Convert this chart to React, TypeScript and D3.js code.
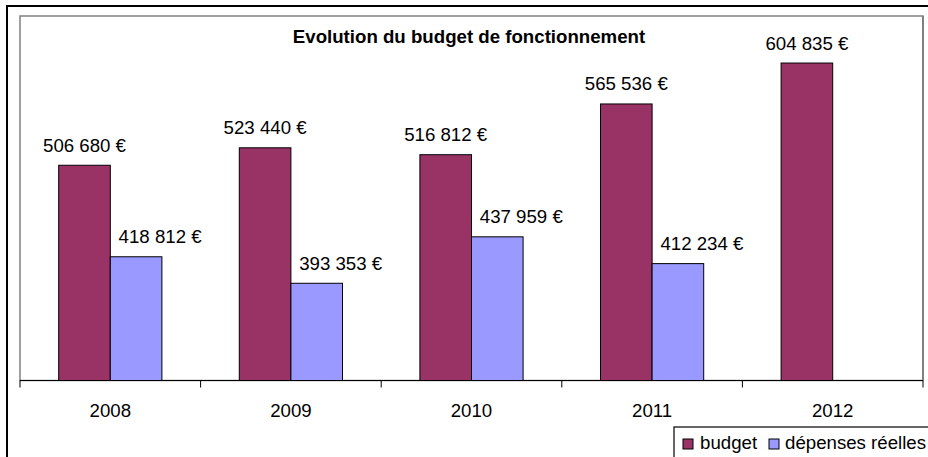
import React from "react";
import * as d3 from "d3";

const years = ["2008", "2009", "2010", "2011", "2012"];
const budget = [506680, 523440, 516812, 565536, 604835];
const depenses: (number | null)[] = [418812, 393353, 437959, 412234, null];
const seriesNames = ["budget", "dépenses réelles"];
const seriesColors = ["#993366", "#9999FF"];
const title = "Evolution du budget de fonctionnement";
const yDomain = [300000, 650000];

const W = 928;
const H = 457;
const plot = { left: 20, top: 16, right: 923, bottom: 380.5 };
const FONT = "'Liberation Sans', Arial, sans-serif";
const FS = 18.67;

const fmt = (v: number) => {
  const s = d3.format(",")(v).replace(/,/g, " ");
  return s + " €";
};

export default function App() {
  const x0 = d3
    .scaleBand<string>()
    .domain(years)
    .range([plot.left, plot.right])
    .paddingInner(0)
    .paddingOuter(0);
  const cw = x0.bandwidth();
  const barW = cw / 3.5;
  const y = d3.scaleLinear().domain(yDomain).range([plot.bottom, plot.top]);

  const series = [budget, depenses];
  const labelDx = [0, 24];

  return (
    <svg
      width={W}
      height={H}
      style={{ position: "absolute", left: 0, top: 0, background: "#fff" }}
      fontFamily={FONT}
    >
      <rect x={0} y={0} width={W} height={H} fill="#fff" />
      {/* chart area border */}
      <rect x={7} y={6} width={940} height={470} fill="none" stroke="#000" strokeWidth={2} />
      {/* plot area border */}
      <rect
        x={plot.left}
        y={plot.top}
        width={plot.right - plot.left}
        height={plot.bottom - plot.top}
        fill="none"
        stroke="#808080"
        strokeWidth={1.5}
      />
      <line x1={plot.right} x2={plot.right} y1={plot.top} y2={plot.bottom} stroke="#808080" strokeWidth={2} />
      {/* bars */}
      {series.map((vals, si) =>
        vals.map((v, i) => {
          if (v == null) return null;
          const bx = (x0(years[i]) as number) + cw * 0.75 / 3.5 + si * barW;
          const by = y(v);
          return (
            <g key={`b${si}-${i}`}>
              <rect
                x={bx}
                y={by}
                width={barW}
                height={plot.bottom - by}
                fill={seriesColors[si]}
                stroke="#000"
                strokeWidth={1}
              />
              <text
                x={bx + barW / 2 + labelDx[si]}
                y={by - 13.5}
                textAnchor="middle"
                fontSize={FS}
                fill="#000"
              >
                {fmt(v)}
              </text>
            </g>
          );
        })
      )}
      {/* x axis */}
      <line x1={plot.left} x2={plot.right} y1={plot.bottom} y2={plot.bottom} stroke="#000" strokeWidth={1.2} />
      {years.map((yr, i) => (
        <line
          key={`t${i}`}
          x1={x0(yr) as number}
          x2={x0(yr) as number}
          y1={plot.bottom}
          y2={plot.bottom + 7}
          stroke="#000"
        />
      ))}
      <line x1={plot.right} x2={plot.right} y1={plot.bottom} y2={plot.bottom + 7} stroke="#000" />
      {years.map((yr) => (
        <text
          key={`l${yr}`}
          x={(x0(yr) as number) + cw / 2}
          y={417}
          textAnchor="middle"
          fontSize={FS}
          fill="#000"
        >
          {yr}
        </text>
      ))}
      {/* title */}
      <text x={469} y={43} textAnchor="middle" fontSize={FS} fontWeight="bold" fill="#000">
        {title}
      </text>
      {/* legend */}
      <rect x={674} y={427} width={300} height={60} fill="#fff" stroke="#000" strokeWidth={1.2} />
      <rect x={683} y={439} width={10} height={10} fill={seriesColors[0]} stroke="#000" />
      <text x={700} y={449} fontSize={FS} fill="#000">{seriesNames[0]}</text>
      <rect x={769} y={439} width={10} height={10} fill={seriesColors[1]} stroke="#000" />
      <text x={785} y={449} fontSize={FS} fill="#000">{seriesNames[1]}</text>
    </svg>
  );
}
